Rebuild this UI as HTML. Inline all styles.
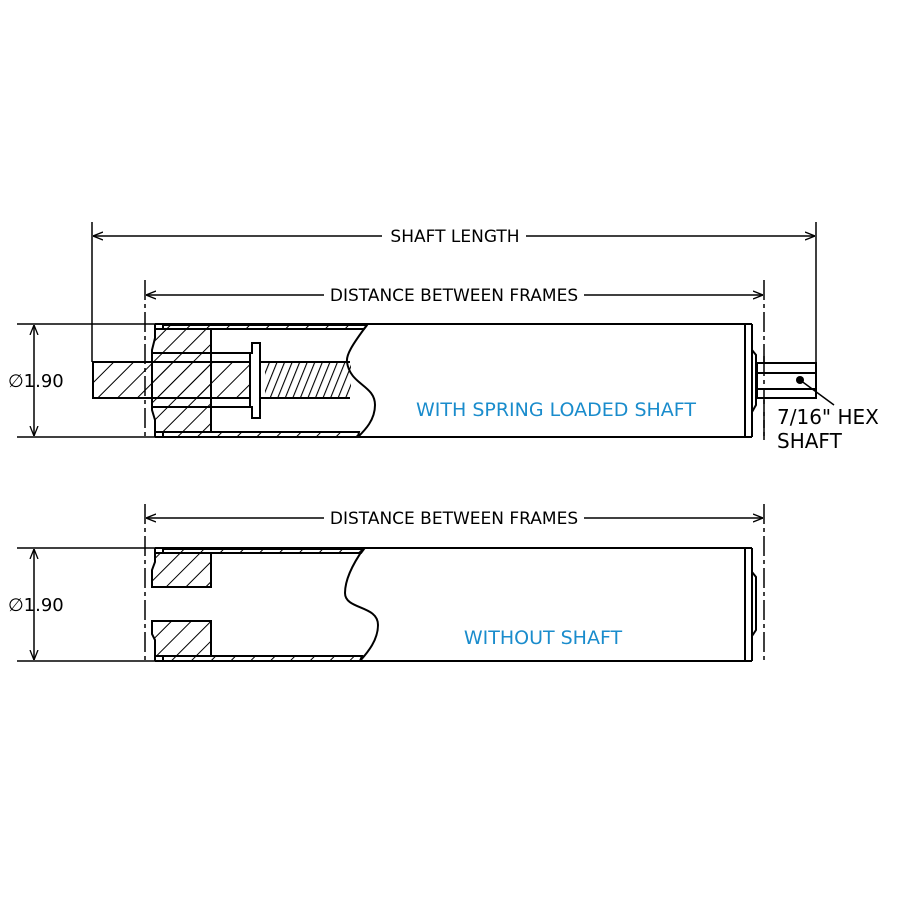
<!DOCTYPE html>
<html><head><meta charset="utf-8"><style>
html,body{margin:0;padding:0;background:#fff}
svg{display:block}
text{font-family:"DejaVu Sans","Liberation Sans",sans-serif}
</style></head><body>
<svg width="900" height="901" viewBox="0 0 900 901" xmlns="http://www.w3.org/2000/svg">
<defs>
<pattern id="h" width="14" height="14" patternUnits="userSpaceOnUse" patternTransform="rotate(45)">
<line x1="0" y1="0" x2="0" y2="14" stroke="#000" stroke-width="2"/></pattern>
<pattern id="t" width="7" height="8" patternUnits="userSpaceOnUse" patternTransform="rotate(22)">
<line x1="0" y1="0" x2="0" y2="8" stroke="#000" stroke-width="2.2"/></pattern>
<marker id="a" viewBox="0 0 10 10" refX="10" refY="5" markerWidth="10" markerHeight="10" orient="auto-start-reverse" markerUnits="userSpaceOnUse"><path d="M0,1 L10,5 L0,9" fill="none" stroke="#000" stroke-width="1.3"/></marker>
</defs>
<g fill="none" stroke="#000" stroke-width="1.5">
<line x1="92" y1="222" x2="92" y2="362"/>
<line x1="816" y1="222" x2="816" y2="362"/>
<line x1="93" y1="236" x2="382" y2="236" marker-start="url(#a)"/>
<line x1="526" y1="236" x2="815" y2="236" marker-end="url(#a)"/>
<line x1="145" y1="280" x2="145" y2="440" stroke-dasharray="20,4,4,4"/>
<line x1="764" y1="280" x2="764" y2="440" stroke-dasharray="20,4,4,4"/>
<line x1="146" y1="295" x2="324" y2="295" marker-start="url(#a)"/>
<line x1="584" y1="295" x2="763" y2="295" marker-end="url(#a)"/>
<line x1="17" y1="324" x2="155" y2="324"/>
<line x1="17" y1="437" x2="155" y2="437"/>
<line x1="34" y1="325" x2="34" y2="436" marker-start="url(#a)" marker-end="url(#a)"/>
</g>
<!-- top tube -->
<g stroke="#000" stroke-width="2" fill="none">
<path d="M163,325 L367,325 L364,329 L163,329Z" fill="url(#h)"/>
<path d="M163,432 L359,432 L358,437 L163,437Z" fill="url(#h)"/>
<path d="M155,329 L211,329 L211,432 L155,432 L155,420 L152,410 L152,350 L155,338Z" fill="url(#h)"/>
<rect x="265" y="362" width="86" height="36" fill="url(#t)" stroke="none"/>
<path d="M367,325 C352,345 346,355 347,362 C350,385 375,385 375,405 C375,420 365,430 358,437"/>
<line x1="155" y1="324" x2="752" y2="324"/>
<line x1="155" y1="437" x2="752" y2="437"/>
<line x1="155" y1="324" x2="155" y2="338"/><line x1="155" y1="420" x2="155" y2="437"/>
<line x1="152" y1="353" x2="252" y2="353"/>
<line x1="152" y1="407" x2="252" y2="407"/>
<rect x="93" y="362" width="167" height="36" fill="url(#h)"/>
<path d="M252,343 L260,343 L260,418 L252,418 L252,407 L250,407 L250,353 L252,353Z" fill="#fff"/>
<line x1="260" y1="362" x2="350" y2="362"/>
<line x1="260" y1="398" x2="350" y2="398"/>
<line x1="745" y1="324" x2="745" y2="437"/>
<line x1="752" y1="324" x2="752" y2="437"/>
<path d="M752,350 L756,355 L756,405 L752,412"/>
<rect x="757" y="363" width="59" height="35" fill="#fff"/>
<line x1="757" y1="373" x2="816" y2="373"/>
<line x1="757" y1="389" x2="816" y2="389"/>
<line x1="764" y1="356" x2="764" y2="440" stroke-width="1.5" stroke-dasharray="20,4,4,4"/>
<line x1="800" y1="380" x2="834" y2="405" stroke-width="1.5"/>
</g>
<circle cx="800" cy="380" r="4" fill="#000"/>
<!-- bottom -->
<g fill="none" stroke="#000" stroke-width="1.5">
<line x1="145" y1="504" x2="145" y2="664" stroke-dasharray="20,4,4,4"/>
<line x1="764" y1="504" x2="764" y2="664" stroke-dasharray="20,4,4,4"/>
<line x1="146" y1="518" x2="324" y2="518" marker-start="url(#a)"/>
<line x1="584" y1="518" x2="763" y2="518" marker-end="url(#a)"/>
<line x1="17" y1="548" x2="155" y2="548"/>
<line x1="17" y1="661" x2="155" y2="661"/>
<line x1="34" y1="549" x2="34" y2="660" marker-start="url(#a)" marker-end="url(#a)"/>
</g>
<g stroke="#000" stroke-width="2" fill="none">
<path d="M163,549 L364,549 L361,553 L163,553Z" fill="url(#h)"/>
<path d="M163,656 L362,656 L360,661 L163,661Z" fill="url(#h)"/>
<path d="M155,553 L211,553 L211,587 L152,587 L152,570 L155,562Z" fill="url(#h)"/>
<path d="M152,621 L211,621 L211,656 L155,656 L155,640 L152,634Z" fill="url(#h)"/>
<path d="M364,548 C352,565 345,580 345,593 C345,610 378,605 378,625 C378,640 368,652 360,661"/>
<line x1="155" y1="548" x2="752" y2="548"/>
<line x1="155" y1="661" x2="752" y2="661"/>
<line x1="155" y1="548" x2="155" y2="562"/><line x1="155" y1="640" x2="155" y2="661"/>
<line x1="745" y1="548" x2="745" y2="661"/>
<line x1="752" y1="548" x2="752" y2="661"/>
<path d="M752,572 L756,577 L756,630 L752,636"/>
</g>
<g font-size="17" fill="#000">
<text x="455" y="242" text-anchor="middle">SHAFT LENGTH</text>
<text x="454" y="301" text-anchor="middle">DISTANCE BETWEEN FRAMES</text>
<text x="454" y="524" text-anchor="middle">DISTANCE BETWEEN FRAMES</text>
<text x="8" y="387" font-size="18">∅1.90</text>
<text x="8" y="611" font-size="18">∅1.90</text>
<text x="777" y="424" font-size="20">7/16" HEX</text>
<text x="777" y="448" font-size="20">SHAFT</text>
</g>
<g font-size="19" fill="#1a8ccc" text-anchor="middle">
<text x="556" y="416">WITH SPRING LOADED SHAFT</text>
<text x="543" y="644">WITHOUT SHAFT</text>
</g>
</svg>
</body></html>
